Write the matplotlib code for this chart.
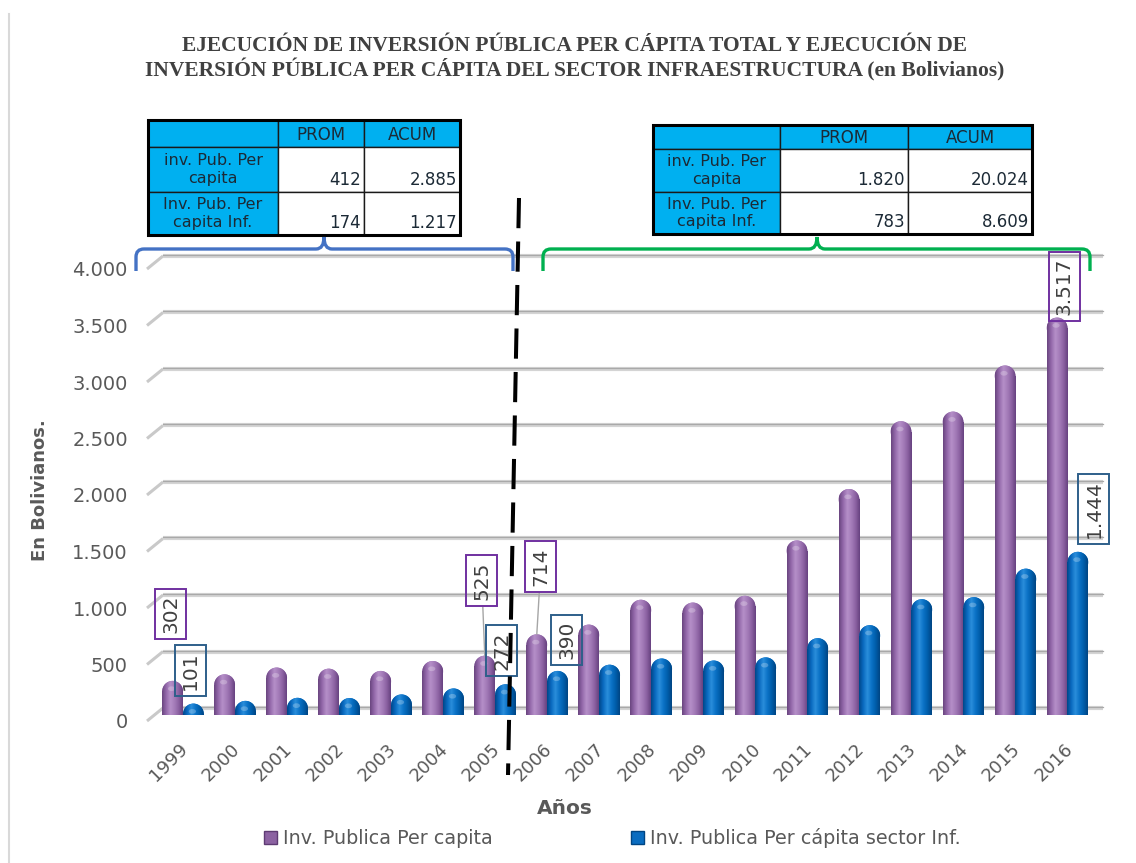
import numpy as np
import matplotlib
matplotlib.use("Agg")
import matplotlib.pyplot as plt
import matplotlib.transforms as mtransforms
from matplotlib.patches import Rectangle, Ellipse, PathPatch, Patch
from matplotlib.path import Path
from matplotlib.colors import LinearSegmentedColormap

# Datos
years = list(range(1999, 2017))
inv_total = [302, 360, 420, 410, 390, 478, 525, 714, 800, 1020, 995, 1055,
             1545, 2000, 2600, 2685, 3093, 3517]
inv_infra = [101, 125, 152, 150, 182, 235, 272, 390, 445, 500, 482, 510,
             680, 795, 1025, 1043, 1295, 1444]
y_ticks = [0, 500, 1000, 1500, 2000, 2500, 3000, 3500, 4000]
labeled_years = [1999, 2005, 2006, 2016]

serie_total = "Inv. Publica Per capita"
serie_infra = "Inv. Publica Per cápita sector Inf."

tab_cols = ["PROM", "ACUM"]
tab_rows = ["inv. Pub. Per\ncapita", "Inv. Pub. Per\ncapita Inf."]
tab_1999_2005 = [[412, 2885], [174, 1217]]
tab_2006_2016 = [[1820, 20024], [783, 8609]]

titulo = ("EJECUCIÓN DE INVERSIÓN PÚBLICA PER CÁPITA TOTAL Y EJECUCIÓN DE\n"
          "INVERSIÓN PÚBLICA PER CÁPITA DEL SECTOR INFRAESTRUCTURA (en Bolivianos)")

W, H = 1136, 863
GRIS = "#595959"


def miles(v):
    return f"{v:,.0f}".replace(",", ".")


def rect_fig(left, top, right, bottom):
    return [left / W, 1 - bottom / H, (right - left) / W, (bottom - top) / H]


fig = plt.figure(figsize=(W / 100, H / 100), dpi=100)
fig.patch.set_facecolor("white")

bg = fig.add_axes([0, 0, 1, 1], zorder=0)
bg.set_xlim(0, W)
bg.set_ylim(H, 0)
bg.axis("off")

ax = fig.add_axes(rect_fig(157, 263, 1093.5, 715), zorder=1)
ax.set_facecolor("none")
for s in ax.spines.values():
    s.set_visible(False)
ax.set_xlim(-0.5, 17.5)
ax.set_ylim(0, 4000)

ov = fig.add_axes([0, 0, 1, 1], zorder=2)
ov.set_xlim(0, W)
ov.set_ylim(H, 0)
ov.axis("off")


def y_px(v):
    return H - ax.transData.transform((0, v))[1]


# líneas de cuadrícula con efecto 3D
for v in y_ticks:
    yp = y_px(v)
    bg.plot([147, 163], [yp + 6, yp - 7], color="#c9c9c9", lw=2.2, solid_capstyle="butt")
    bg.plot([163, 1103], [yp - 7, yp - 7], color="#d4d4d4", lw=3.0, solid_capstyle="butt")
    bg.plot([163, 1103], [yp - 8, yp - 8], color="#a9a9a9", lw=0.9)

# barras cilíndricas
x = np.arange(len(years))
bw = 0.40
p0 = ax.transData.transform((0, 0))
p1 = ax.transData.transform((1, 1))
cap = (bw / 2) * (p1[0] - p0[0]) / (p1[1] - p0[1])

cmap_total = LinearSegmentedColormap.from_list(
    "morado", ["#6a4580", "#9469ab", "#b58fc8", "#a47cb9", "#8c62a2", "#674280"])
cmap_infra = LinearSegmentedColormap.from_list(
    "azul", ["#00478a", "#0a6ac0", "#2a8edb", "#0b72c6", "#005eab", "#004583"])
grad = np.linspace(0, 1, 64).reshape(1, -1)


def cilindros(xs, vals, cmap, base, z):
    bars = ax.bar(xs, np.array(vals) - cap, width=bw, color=base, zorder=z)
    for b, xc, v in zip(bars, xs, vals):
        tapa = Ellipse((xc, v - cap), bw, 2 * cap, fc=base, ec="none", zorder=z)
        ax.add_patch(tapa)
        for clip in (b, tapa):
            im = ax.imshow(grad, extent=[xc - bw / 2, xc + bw / 2, 0, v], aspect="auto",
                           cmap=cmap, interpolation="bilinear", origin="lower", zorder=z + 0.1)
            im.set_clip_path(clip)
        ax.add_patch(Ellipse((xc - bw * 0.05, v - cap * 0.75), bw * 0.35, cap * 0.45,
                             fc="white", ec="none", alpha=0.25, zorder=z + 0.2))
    return bars


cilindros(x - bw / 2, inv_total, cmap_total, "#9c72b3", 2)
cilindros(x + bw / 2, inv_infra, cmap_infra, "#0a6cc0", 3)
ax.set_xlim(-0.5, 17.5)
ax.set_ylim(0, 4000)

# etiquetas de datos
off_total = {1999: (-2, 67), 2005: (-3, 75), 2006: (4, 68), 2016: (7, 31)}
off_infra = {1999: (-3, 33), 2005: (-4, 34), 2006: (9, 31), 2016: (16, 43)}
for yr in labeled_years:
    i = years.index(yr)
    ap = None
    if yr in (2005, 2006):
        ap = dict(arrowstyle="-", color="#a6a6a6", lw=1, shrinkA=0, shrinkB=0)
    ax.annotate(miles(inv_total[i]), xy=(x[i] - bw / 2, inv_total[i]), xytext=off_total[yr],
                textcoords="offset pixels", rotation=90, ha="center", va="center",
                fontsize=14.5, color="#404040", zorder=6, arrowprops=ap,
                bbox=dict(boxstyle="square,pad=0.3", fc="none", ec="#7030a0", lw=1.4))
    ax.annotate(miles(inv_infra[i]), xy=(x[i] + bw / 2, inv_infra[i]), xytext=off_infra[yr],
                textcoords="offset pixels", rotation=90, ha="center", va="center",
                fontsize=14.5, color="#404040", zorder=6,
                bbox=dict(boxstyle="square,pad=0.3", fc="none", ec="#2e5f8a", lw=1.4))

# ejes
ax.set_yticks(y_ticks)
ax.set_yticklabels([miles(v) for v in y_ticks])
ax.tick_params(axis="y", length=0, pad=21, labelsize=14, labelcolor=GRIS)
for lbl in ax.get_yticklabels():
    lbl.set_transform(lbl.get_transform() + mtransforms.ScaledTranslation(0, -0.06, fig.dpi_scale_trans))
ax.set_xticks(x)
ax.set_xticklabels([str(y) for y in years], rotation=45, ha="right", rotation_mode="anchor")
ax.tick_params(axis="x", length=0, pad=18, labelsize=13, labelcolor=GRIS)
for lbl in ax.get_xticklabels():
    lbl.set_transform(lbl.get_transform() + mtransforms.ScaledTranslation(-0.04, 0, fig.dpi_scale_trans))

ov.text(40, 490, "En Bolivianos.", rotation=90, ha="center", va="center",
        fontsize=13, fontweight="bold", color=GRIS)
ov.text(565, 808, "Años", ha="center", va="center", fontsize=14.5, fontweight="bold", color=GRIS)

handles = [Patch(fc="#8c62a2", ec="#5e3b73", lw=1), Patch(fc="#0a6cc0", ec="#004583", lw=1)]
fig.legend(handles, [serie_total, serie_infra], loc="center", bbox_to_anchor=(612 / W, 1 - 838 / H),
           ncol=2, frameon=False, fontsize=13.8, handlelength=0.7, handleheight=0.7,
           handletextpad=0.3, columnspacing=7.2, labelcolor=GRIS)

# título
ov.text(575, 59, titulo, ha="center", va="center", fontsize=15.5, fontweight="bold",
        family="Liberation Serif", color="#404040", linespacing=1.15)


# tablas
def tabla(xe, ye, vals):
    for r in range(3):
        for c in range(3):
            fc = "#00b0f0" if (r == 0 or c == 0) else "white"
            ov.add_patch(Rectangle((xe[c], ye[r]), xe[c + 1] - xe[c], ye[r + 1] - ye[r],
                                   fc=fc, ec="#1a1a1a", lw=1))
    ov.add_patch(Rectangle((xe[0], ye[0]), xe[-1] - xe[0], ye[-1] - ye[0],
                           fc="none", ec="black", lw=2.2))
    for c, name in enumerate(tab_cols):
        ov.text((xe[c + 1] + xe[c + 2]) / 2, (ye[0] + ye[1]) / 2 + 1, name,
                ha="center", va="center", fontsize=12, color="#1c2a36")
    for r, name in enumerate(tab_rows):
        ov.text((xe[0] + xe[1]) / 2, (ye[r + 1] + ye[r + 2]) / 2, name,
                ha="center", va="center", fontsize=11.5, color="#1c2a36", linespacing=1.2)
        for c in range(2):
            ov.text(xe[c + 2] - 3, ye[r + 2] - 3, miles(vals[r][c]),
                    ha="right", va="bottom", fontsize=12, color="#1c2a36")


tabla([148, 278, 364, 460], [120, 147, 192, 235], tab_1999_2005)
tabla([653, 780, 908, 1032], [125, 149, 192, 234], tab_2006_2016)


# llaves
def llave(x0, x1, xm, color, yt=249, yb=271, tip=237, r=8):
    verts = [(x0, yb), (x0, yt + r), (x0, yt), (x0 + r, yt), (xm - r, yt), (xm, yt), (xm, tip),
             (xm, yt), (xm + r, yt), (x1 - r, yt), (x1, yt), (x1, yt + r), (x1, yb)]
    codes = [Path.MOVETO, Path.LINETO, Path.CURVE3, Path.CURVE3, Path.LINETO, Path.CURVE3,
             Path.CURVE3, Path.CURVE3, Path.CURVE3, Path.LINETO, Path.CURVE3, Path.CURVE3,
             Path.LINETO]
    ov.add_patch(PathPatch(Path(verts, codes), fc="none", ec=color, lw=2.4, capstyle="butt"))


llave(136, 513, 324, "#4472c4")
llave(543, 1090, 817, "#00b050")

# línea divisoria
ov.plot([519, 508], [198, 775], color="black", lw=2.9, linestyle=(0, (7.5, 3.3)))
ov.plot([9, 9], [14, H], color="#d9d9d9", lw=1.5)

fig.savefig("out.png", dpi=100)
